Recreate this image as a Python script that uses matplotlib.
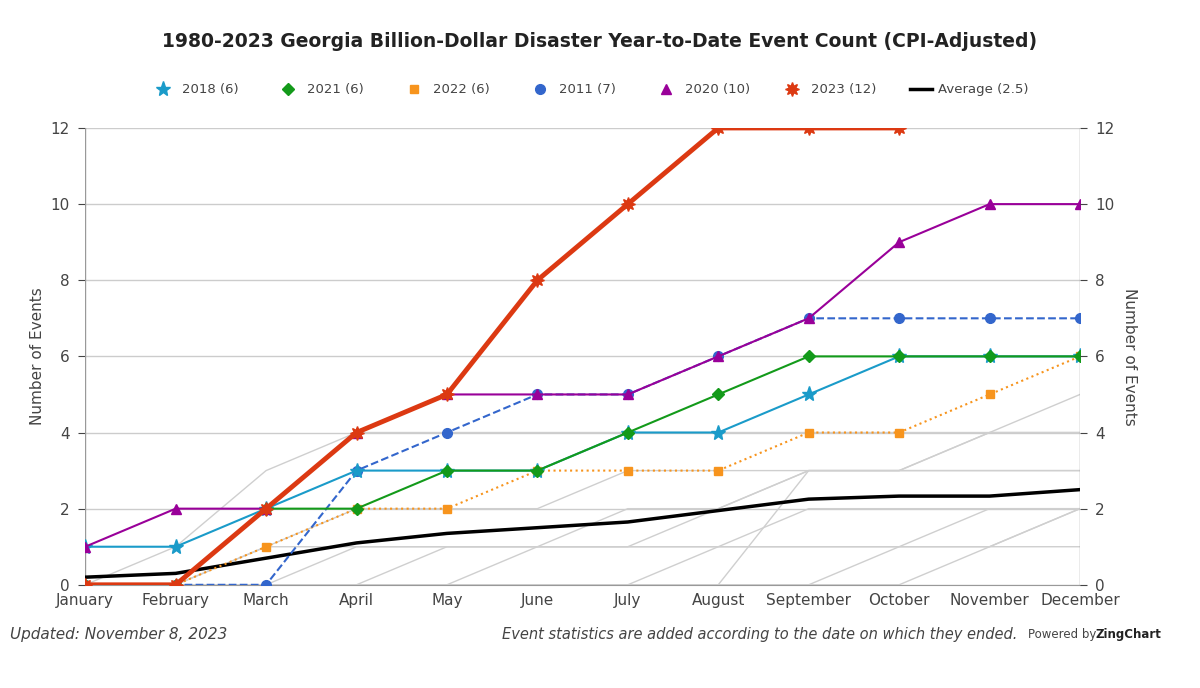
import matplotlib.pyplot as plt

months = ["January", "February", "March", "April", "May", "June", "July",
          "August", "September", "October", "November", "December"]

y2018 = [1, 1, 2, 3, 3, 3, 4, 4, 5, 6, 6, 6]
y2021 = [0, 0, 2, 2, 3, 3, 4, 5, 6, 6, 6, 6]
y2022 = [0, 0, 1, 2, 2, 3, 3, 3, 4, 4, 5, 6]
y2011 = [0, 0, 0, 3, 4, 5, 5, 6, 7, 7, 7, 7]
y2020 = [1, 2, 2, 4, 5, 5, 5, 6, 7, 9, 10, 10]
y2023 = [0, 0, 2, 4, 5, 8, 10, 12, 12, 12]
avg = [0.2, 0.3, 0.7, 1.1, 1.35, 1.5, 1.65, 1.95, 2.25, 2.33, 2.33, 2.5]

# other years, drawn in light grey behind
others = [
    [0, 1, 3, 4, 4, 4, 4, 4, 4, 4, 4, 5],
    [0, 0, 1, 2, 2, 2, 3, 3, 3, 3, 4, 4],
    [0, 0, 0, 1, 1, 1, 1, 2, 3, 3, 3, 3],
    [0, 0, 0, 0, 1, 1, 1, 1, 1, 1, 2, 2],
    [0, 0, 0, 0, 0, 1, 1, 1, 2, 2, 2, 2],
    [0, 0, 0, 0, 0, 0, 0, 1, 1, 1, 1, 1],
    [0, 0, 1, 1, 1, 1, 2, 2, 3, 3, 3, 3],
    [0, 0, 0, 0, 0, 0, 0, 0, 0, 1, 1, 2],
    [0, 0, 0, 0, 0, 0, 0, 0, 3, 3, 4, 4],
    [0, 0, 0, 0, 0, 0, 0, 0, 0, 0, 1, 2],
]

fig = plt.figure(figsize=(12, 6.88), dpi=100)
ax = fig.add_axes([0.071, 0.15, 0.829, 0.664])
x = list(range(12))

ax.set_ylim(0, 12)
ax.set_xlim(0, 11)
for v in range(0, 13, 2):
    ax.axhline(v, color="#cccccc", lw=1, zorder=0)

for o in others:
    ax.plot(x, o, color="#cfcfcf", lw=1, zorder=1)

ax.plot(x, avg, color="black", lw=2.5, zorder=3)
ax.plot(x, y2022, color="#f7941d", lw=1.5, ls=":", marker="s", ms=6, zorder=4)
ax.plot(x, y2011, color="#3366cc", lw=1.5, ls="--", marker="o", ms=7, zorder=4)
ax.plot(x, y2018, color="#1a9bc9", lw=1.5, marker="*", ms=11, zorder=5)
ax.plot(x, y2021, color="#139a1a", lw=1.5, marker="D", ms=6, zorder=5)
ax.plot(x, y2020, color="#990099", lw=1.5, marker="^", ms=7, zorder=6)
ax.plot(x[:len(y2023)], y2023, color="#dc3912", lw=3.5, marker=(8, 1, 0), ms=10, zorder=7)

ax.set_xticks(x)
ax.set_xticklabels(months, fontsize=11, color="#444444")
ax.set_yticks(range(0, 13, 2))
ax.tick_params(axis="y", labelsize=11, colors="#444444", length=5, pad=6)
ax.tick_params(axis="x", length=0, pad=6)
for s in ["top", "right", "left"]:
    ax.spines[s].set_visible(False)
ax.spines["bottom"].set_color("#999999")
ax.set_ylabel("Number of Events", fontsize=11, color="#444444")

ax2 = ax.twinx()
ax2.set_ylim(0, 12)
ax2.set_yticks(range(0, 13, 2))
ax2.tick_params(axis="y", labelsize=11, colors="#444444", length=5, pad=6)
for s in ["top", "right", "left", "bottom"]:
    ax2.spines[s].set_visible(False)
ax2.set_ylabel("Number of Events", fontsize=11, color="#444444", rotation=270, labelpad=16)
ax.axvline(0, color="#999999", lw=1)
ax.axvline(11, color="#999999", lw=1)

fig.text(0.5, 0.94, "1980-2023 Georgia Billion-Dollar Disaster Year-to-Date Event Count (CPI-Adjusted)",
         ha="center", va="center", fontsize=13.5, fontweight="bold", color="#222222")

legend_items = [
    ("2018 (6)", "#1a9bc9", "*", 11, 0.136),
    ("2021 (6)", "#139a1a", "D", 6, 0.24),
    ("2022 (6)", "#f7941d", "s", 6, 0.345),
    ("2011 (7)", "#3366cc", "o", 7, 0.45),
    ("2020 (10)", "#990099", "^", 7, 0.555),
    ("2023 (12)", "#dc3912", (8, 1, 0), 10, 0.66),
]
ly = 0.87
for label, c, m, ms, lx in legend_items:
    fig.lines.append(plt.Line2D([lx], [ly], marker=m, color=c, ms=ms, ls="", transform=fig.transFigure))
    fig.text(lx + 0.016, ly, label, va="center", fontsize=9.5, color="#444444")
fig.lines.append(plt.Line2D([0.758, 0.777], [ly, ly], color="black", lw=2.5, transform=fig.transFigure))
fig.text(0.782, ly, "Average (2.5)", va="center", fontsize=9.5, color="#444444")

fig.text(0.008, 0.078, "Updated: November 8, 2023", fontsize=11, style="italic", color="#444444", va="center")
fig.text(0.848, 0.078, "Event statistics are added according to the date on which they ended.",
         fontsize=10.5, style="italic", color="#444444", va="center", ha="right")
fig.text(0.857, 0.078, "Powered by", fontsize=8.5, color="#444444", va="center")
fig.text(0.913, 0.078, "ZingChart", fontsize=8.5, fontweight="bold", color="#222222", va="center")

fig.savefig("out.png")
